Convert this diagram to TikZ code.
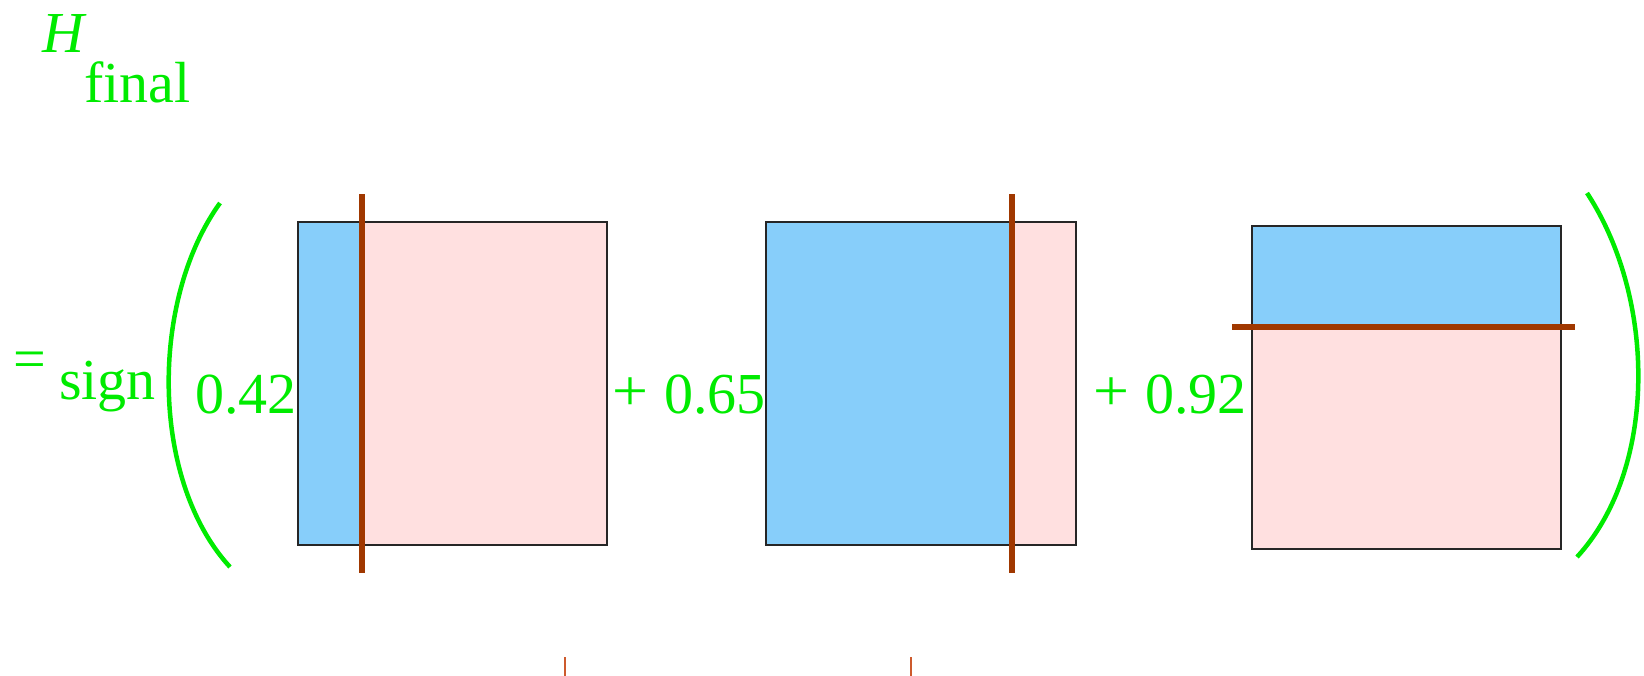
\documentclass[tikz,border=0pt]{standalone}
\usepackage{graphicx}
\usepackage{fontspec}
\setmainfont{Liberation Serif}
\definecolor{eqgreen}{RGB}{0,235,0}
\definecolor{leftblue}{RGB}{135,206,250}
\definecolor{rightpink}{RGB}{255,224,224}
\definecolor{splitbrown}{RGB}{160,56,0}
\definecolor{tickbrown}{RGB}{205,90,45}
\newcommand{\bigplus}{\raisebox{3pt}{\scalebox{1.1}[1.0]{+}}}
\tikzset{
  eqtext/.style={text=eqgreen, inner sep=0pt, font=\fontsize{58}{62}\selectfont},
  paren/.style={draw=eqgreen, line width=4.5pt},
  boxedge/.style={draw=black!85, line width=1.6pt},
  splitline/.style={draw=splitbrown, line width=6pt},
  tickline/.style={draw=tickbrown, line width=2pt},
}
\begin{document}
\begin{tikzpicture}[x=1pt,y=-1pt]
\useasboundingbox (0,0) rectangle (1644,675);
% title
\node[eqtext, anchor=base west] (H) at (42,52) {\itshape H};
\node[eqtext, anchor=base west] (final) at (84,102) {final};
% equation left part
\node[eqtext, anchor=center] (eq) at (30,365) {=};
\node[eqtext, anchor=base west] (sign) at (59,399) {sign};
\draw[paren] (220,203) .. controls (150,300) and (150,480) .. (230,567);
\draw[paren] (1587,193) .. controls (1657,300) and (1657,470) .. (1577,557);
% coefficients
\node[eqtext, anchor=base west] (c1) at (195,413) {0.42};
\node[eqtext, anchor=base west] (c2) at (612,413) {\bigplus\hspace{16pt}0.65};
\node[eqtext, anchor=base west] (c3) at (1093,413) {\bigplus\hspace{16pt}0.92};
% box 1: vertical split
\fill[leftblue] (298,222) rectangle (362,545);
\fill[rightpink] (362,222) rectangle (607,545);
\draw[boxedge] (298,222) rectangle (607,545);
\coordinate (s1t) at (362,194);
\coordinate (s1b) at (362,573);
\draw[splitline] (s1t) -- (s1b);
% box 2: vertical split
\fill[leftblue] (766,222) rectangle (1012,545);
\fill[rightpink] (1012,222) rectangle (1076,545);
\draw[boxedge] (766,222) rectangle (1076,545);
\coordinate (s2t) at (1012,194);
\coordinate (s2b) at (1012,573);
\draw[splitline] (s2t) -- (s2b);
% box 3: horizontal split
\fill[leftblue] (1252,226) rectangle (1561,327);
\fill[rightpink] (1252,327) rectangle (1561,549);
\draw[boxedge] (1252,226) rectangle (1561,549);
\coordinate (s3l) at (1232,327);
\coordinate (s3r) at (1575,327);
\draw[splitline] (s3l) -- (s3r);
% bottom ticks
\coordinate (t1a) at (565,657);
\coordinate (t1b) at (565,676);
\coordinate (t2a) at (911,657);
\coordinate (t2b) at (911,676);
\draw[tickline] (t1a) -- (t1b);
\draw[tickline] (t2a) -- (t2b);
\end{tikzpicture}
\end{document}
